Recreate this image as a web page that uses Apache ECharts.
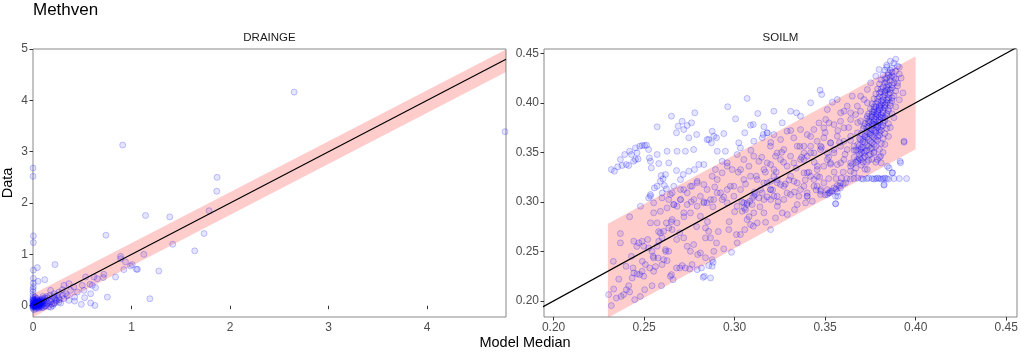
<!DOCTYPE html>
<html>
<head>
<meta charset="utf-8">
<script src="https://cdn.jsdelivr.net/npm/echarts@6/dist/echarts.min.js"></script>
<style>
html,body{margin:0;padding:0;background:#fff;}
#chart{width:1021px;height:352px;}
</style>
</head>
<body>
<div id="chart"></div>
<script>
// ---------- DATA ----------
const chartTitle = "Methven";
const panelNames = ["DRAINGE", "SOILM"];
const xAxisName = "Model Median";
const yAxisName = "Data";

const drainXTicks = [0, 1, 2, 3, 4];
const drainYTicks = [0, 1, 2, 3, 4, 5];
const soilXTicks = [0.20, 0.25, 0.30, 0.35, 0.40, 0.45];
const soilYTicks = [0.20, 0.25, 0.30, 0.35, 0.40, 0.45];

// 1:1 reference lines
const drainLine = [[0, 0], [4.8, 4.8]];
const soilLine = [[0.18, 0.18], [0.47, 0.47]];

// uncertainty bands
const drainBandX = [0, 4.8];
const drainBandLo = [-0.22, 4.55];
const drainBandHi = [0.23, 4.99];
const soilBandX = [0.23, 0.40];
const soilBandLo = [0.183, 0.353];
const soilBandHi = [0.278, 0.447];

const drainPoints = [
  [0,0],[0.01,0.02],[0.02,-0.03],[0.03,0.05],[0.04,0.01],[0.05,-0.02],[0.06,0.04],[0.07,0.0],[0.08,0.06],[0.09,-0.04],
  [0.10,0.02],[0.11,0.08],[0.12,-0.01],[0.0,0.10],[0.0,0.15],[0.0,0.20],[0.01,0.12],[0.02,0.08],[0.03,-0.06],[0.04,0.14],
  [0.05,0.10],[0.06,-0.05],[0.0,-0.05],[0.01,-0.08],[0.02,0.17],[0.03,0.10],[0.0,0.05],[0.0,0.03],[0.0,-0.02],[0.01,0.0],
  [0.015,0.04],[0.025,0.01],[0.035,0.02],[0.045,0.06],[0.055,0.03],[0.065,0.09],[0.075,0.05],[0.085,0.12],[0.095,0.07],[0.105,-0.03],
  [0.02,0.0],[0.03,0.03],[0.04,-0.03],[0.05,0.05],[0.06,0.01],[0.07,0.08],[0.08,-0.02],[0.09,0.10],[0.0,0.01],[0.01,0.06],
  [0.005,0.01],[0.015,-0.01],[0.025,0.03],[0.035,-0.02],[0.045,0.02],[0.055,0.07],[0.065,-0.01],[0.075,0.03],[0.085,0.0],[0.095,0.04],
  [0.005,0.08],[0.015,0.11],[0.025,0.06],[0.035,0.13],[0.045,0.09],[0.055,-0.04],[0.065,0.05],[0.075,0.11],[0.085,0.08],[0.095,0.14],
  [0.0,0.12],[0.0,0.08],[0.0,0.0],[0.0,-0.03],[0.01,0.04],[0.02,0.02],[0.03,0.0],[0.04,0.04],[0.05,0.01],[0.06,0.02],
  [0.11,0.12],[0.12,0.05],[0.13,0.0],[0.14,0.18],[0.16,0.10],[0.19,0.03],[0.22,0.15],[0.25,0.20],[0.27,0.12],[0.10,0.18],
  [0.13,0.10],[0.14,0.03],[0.15,0.15],[0.16,-0.02],[0.17,0.20],[0.18,0.08],[0.19,0.12],[0.20,0.0],[0.21,0.18],[0.22,0.05],
  [0.24,0.10],[0.26,0.15],[0.28,0.05],[0.30,0.20],[0.12,0.15],[0.15,0.05],[0.18,-0.03],[0.23,0.12],
  [0.179,0.299],[0.213,0.234],[0.263,0.266],[0.298,0.312],[0.331,0.234],[0.382,0.299],[0.45,0.266],[0.517,0.299],
  [0.415,0.365],[0.365,0.43],[0.314,0.397],[0.365,0.104],[0.422,0.091],[0.314,0.136],[0.263,0.07],[0.213,0.039],
  [0.348,0.195],[0.602,0.397],[0.635,0.352],[0.578,0.417],[0.50,0.397],[0.585,0.234],[0.524,0.156],[0.422,0.168],
  [0.49,0.026],[0.585,0.052],[0.628,0.006],[0.534,0.56],[0.652,0.525],[0.618,0.56],[0.713,0.548],[0.719,0.611],
  [0.223,0.801],[0.044,0.742],[0.119,0.507],[0.051,0.475],[0.004,0.693],[0.004,0.53],[0.004,0.44],[0.004,0.37],
  [0.004,1.36],[0.004,1.23],[0.0,2.68],[0.0,2.52],[0.0,0.32],[0.0,0.27],
  [0.754,0.168],[1.186,0.136],[0.838,0.559],[1.277,0.676],[0.922,0.703],[1.05,0.709],[1.06,0.709],[0.99,0.774],
  [0.939,0.852],[0.889,0.961],[0.889,0.915],[1.007,0.80],[1.125,1.0],[1.641,1.068],[1.418,1.197],[0.74,1.373],
  [1.736,1.406],[1.787,1.85],[1.388,1.73],[1.142,1.757],[1.865,2.23],[1.868,2.50],[0.91,3.13],[2.65,4.16],[4.79,3.39]
];

const soilPoints = [
  // upper-left outliers
  [0.2319,0.3326],[0.2336,0.3310],[0.2354,0.3354],[0.2378,0.3367],[0.2402,0.3377],[0.2415,0.3367],[0.2369,0.3427],[0.2393,0.3478],
  [0.2420,0.3511],[0.2430,0.3478],[0.2452,0.3545],[0.2461,0.3494],[0.2476,0.3562],[0.2489,0.3569],[0.2502,0.3569],[0.2513,0.3572],
  [0.2452,0.3427],[0.2442,0.3410],[0.2467,0.3432],[0.2525,0.3528],[0.2529,0.3444],[0.2535,0.3410],[0.2540,0.3343],[0.2572,0.3478],
  [0.2581,0.3387],[0.2594,0.3266],[0.2618,0.3276],[0.2605,0.3232],[0.2590,0.3208],[0.2627,0.3511],[0.2651,0.3865],[0.2572,0.3757],
  [0.2679,0.3697],[0.2688,0.3764],[0.2710,0.3814],[0.2719,0.3730],[0.2738,0.3771],[0.2747,0.3647],[0.2762,0.3798],[0.2780,0.3899],
  [0.2790,0.3680],[0.2774,0.3528],[0.2728,0.3511],[0.2682,0.3511],[0.2636,0.3393],[0.2679,0.3316],[0.2701,0.3225],[0.2716,0.3276],
  [0.2747,0.3310],[0.2778,0.3326],[0.2802,0.3377],[0.2830,0.3377],[0.2848,0.3629],[0.2876,0.3713],[0.2885,0.3663],[0.2857,0.3629],
  [0.2872,0.3596],[0.2900,0.3647],[0.2904,0.3511],[0.2940,0.3689],[0.2949,0.3511],[0.2962,0.3960],[0.3005,0.3838],[0.3023,0.3596],
  [0.3032,0.3545],[0.3056,0.3697],[0.3069,0.4044],[0.3088,0.3774],[0.3103,0.3781],[0.3106,0.3612],[0.3128,0.3892],[0.3153,0.3647],
  [0.3158,0.3680],[0.3180,0.3697],[0.2535,0.3057],[0.2557,0.3141],[0.2572,0.3158],[0.2623,0.3131],[0.2612,0.3165],[0.2600,0.3091],
  // lower-left part of band
  [0.2304,0.2064],[0.2319,0.1953],[0.2332,0.2120],[0.2347,0.2029],[0.2373,0.2046],[0.2387,0.2064],[0.2402,0.2114],[0.2415,0.2154],
  [0.2420,0.2091],[0.2434,0.2232],[0.2443,0.2283],[0.2439,0.2333],[0.2461,0.2273],[0.2476,0.2266],[0.2489,0.2299],[0.2498,0.2249],
  [0.2479,0.2046],[0.2448,0.2013],[0.2503,0.2114],[0.2507,0.2367],[0.2531,0.2333],[0.2544,0.2154],[0.2553,0.2299],[0.2563,0.2347],
  [0.2577,0.2434],[0.2596,0.2154],[0.2599,0.2367],[0.2608,0.2417],[0.2627,0.2407],[0.2651,0.2266],[0.2660,0.2215],[0.2645,0.2249],
  [0.2679,0.2333],[0.2697,0.2333],[0.2710,0.2357],[0.2728,0.2333],[0.2752,0.2323],[0.2765,0.2367],[0.2793,0.2316],[0.2833,0.2249],
  [0.2867,0.2232],[0.2817,0.2333],[0.2857,0.2357],[0.2881,0.2390],[0.2876,0.2417],[0.2826,0.2238],[0.2839,0.2437],[0.2876,0.2350],
  [0.2369,0.2680],[0.2369,0.2586],[0.2420,0.2849],[0.2443,0.2603],[0.2470,0.2586],[0.2489,0.2603],[0.2498,0.2552],[0.2525,0.2535],
  [0.2544,0.2501],[0.2553,0.2434],[0.2572,0.2552],[0.2581,0.2603],[0.2599,0.2636],[0.2618,0.2518],[0.2636,0.2501],[0.2590,0.2687],
  [0.2608,0.2703],[0.2636,0.2737],[0.2655,0.2720],[0.2623,0.2788],[0.2655,0.2822],[0.2682,0.2788],[0.2697,0.2687],[0.2719,0.2636],
  [0.2738,0.2552],[0.2756,0.2501],[0.2774,0.2569],[0.2796,0.2468],[0.2811,0.2485],[0.2839,0.2636],[0.2839,0.2737],[0.2857,0.2703],
  [0.2867,0.2636],[0.2900,0.2586],[0.2885,0.2501],[0.2940,0.2525],[0.2983,0.2491],[0.3014,0.2586],[0.2968,0.2720],[0.3010,0.2670],
  [0.3032,0.2670],[0.3056,0.2720],[0.3088,0.2771],[0.3069,0.2822],[0.3103,0.2754],[0.3125,0.2788],[0.3171,0.2794],[0.3199,0.2720],
  [0.3226,0.2838],[0.3263,0.2889],[0.3291,0.2872],[0.3331,0.2922],[0.3346,0.2973],[0.3392,0.2990],[0.3429,0.3006],[0.3475,0.3074],
  [0.3526,0.3091],[0.3558,0.2982],[0.3567,0.3097],[0.3585,0.3141],[0.2756,0.2889],[0.2811,0.2855],[0.2719,0.2889],[0.2664,0.2973],
  [0.2701,0.3023],[0.2627,0.2939],[0.2590,0.2905],[0.2553,0.2889],[0.2572,0.2788],[0.2535,0.2788],[0.2535,0.3074],[0.2525,0.3040],
  [0.2553,0.2990],[0.2599,0.3040],[0.2645,0.3074],[0.2664,0.3158],[0.2719,0.3124],[0.2756,0.3158],[0.2793,0.3208],[0.2830,0.2990],
  [0.2867,0.3023],[0.2904,0.3091],[0.2931,0.3023],[0.2959,0.3124],[0.2996,0.3158],[0.3014,0.2956],[0.3050,0.2990],[0.3060,0.2922],
  [0.3097,0.2973],[0.3106,0.2889],[0.3134,0.3040],[0.3152,0.3091],[0.3162,0.2889],[0.3199,0.3023],[0.3236,0.2956],[0.3272,0.3023],
  [0.3309,0.3074],[0.3355,0.3057],[0.3401,0.3091],[0.3456,0.3158],[0.3493,0.3192],[0.3199,0.3208],[0.3254,0.3175],[0.3328,0.3208],
  [0.3042,0.2905],[0.3054,0.2939],[0.3069,0.2973],[0.3084,0.3006],[0.3099,0.3040],[0.3114,0.3074],
  [0.3512,0.3074],[0.3531,0.3108],[0.3549,0.3141],[0.3567,0.3165],[0.3585,0.3192],
  [0.285,0.280],[0.288,0.295],[0.291,0.270],[0.294,0.305],[0.297,0.280],[0.289,0.315],[0.283,0.300],[0.279,0.275],
  [0.276,0.300],[0.272,0.285],[0.268,0.262],[0.265,0.280],[0.262,0.250],[0.258,0.270],[0.255,0.245],[0.252,0.262],
  [0.249,0.240],[0.246,0.255],[0.243,0.245],[0.240,0.235],[0.236,0.222],[0.233,0.240],
  // middle of band
  [0.3014,0.3478],[0.3051,0.3427],[0.3079,0.3360],[0.3106,0.3461],[0.3134,0.3410],[0.3162,0.3326],[0.3199,0.3377],[0.3226,0.3461],
  [0.3217,0.3259],[0.3180,0.3192],[0.3143,0.3124],[0.3106,0.3057],[0.3070,0.2990],[0.3033,0.3124],[0.2996,0.3057],[0.2959,0.2990],
  [0.2922,0.3091],[0.2885,0.3023],[0.3051,0.3225],[0.3088,0.3259],[0.3125,0.3225],[0.3162,0.3023],[0.3199,0.3124],[0.3235,0.3057],
  [0.3235,0.3192],[0.2959,0.3360],[0.2931,0.3293],[0.2904,0.3225],[0.2977,0.3158],[0.2848,0.3124],[0.2811,0.3057],[0.2848,0.2990],
  [0.2775,0.3023],[0.2738,0.2973],[0.2701,0.3023],[0.2664,0.2973],[0.2931,0.3410],[0.2959,0.3394],[0.2987,0.3326],[0.2894,0.3326],
  [0.2876,0.3259],[0.3033,0.3326],[0.2480,0.2956],[0.2636,0.3023],[0.2655,0.3091],[0.2701,0.3124],[0.2738,0.3091],[0.2765,0.3158],
  [0.2793,0.3192],[0.2830,0.3175],[0.2682,0.2956],[0.2793,0.2956],
  [0.302,0.330],[0.306,0.318],[0.309,0.352],[0.312,0.326],[0.315,0.345],[0.318,0.305],[0.320,0.360],[0.323,0.330],
  [0.326,0.350],[0.328,0.318],[0.331,0.372],[0.334,0.334],[0.336,0.356],[0.339,0.322],[0.342,0.366],[0.344,0.340],
  [0.347,0.325],[0.350,0.370],[0.352,0.345],[0.355,0.330],[0.358,0.360],[0.361,0.348],[0.363,0.375],[0.366,0.352],[0.368,0.380],
  [0.300,0.290],[0.304,0.300],[0.308,0.285],[0.311,0.310],[0.314,0.295],[0.317,0.330],[0.321,0.312],[0.324,0.300],
  [0.327,0.340],[0.330,0.322],[0.333,0.310],[0.337,0.345],[0.341,0.330],[0.345,0.312],[0.348,0.355],[0.353,0.338],
  [0.357,0.372],[0.360,0.330],[0.364,0.362],[0.367,0.340],
  [0.3180,0.3696],[0.3217,0.3679],[0.3254,0.3629],[0.3290,0.3713],[0.3327,0.3646],[0.3364,0.3730],[0.3401,0.3679],[0.3438,0.3730],
  [0.3466,0.3797],[0.3493,0.3747],[0.3521,0.3797],[0.3549,0.3780],[0.3585,0.3814],[0.3604,0.3747],[0.3641,0.3831],[0.3668,0.3881],
  [0.3696,0.3814],[0.3715,0.3764],[0.3733,0.3865],
  [0.3198,0.3562],[0.3235,0.3494],[0.3272,0.3528],[0.3309,0.3461],[0.3346,0.3562],[0.3383,0.3494],[0.3420,0.3562],[0.3456,0.3612],
  [0.3493,0.3646],[0.3530,0.3595],[0.3567,0.3663],[0.3604,0.3612],[0.3641,0.3663],[0.3678,0.3696],[0.3696,0.3629],
  [0.3180,0.3393],[0.3217,0.3326],[0.3254,0.3427],[0.3290,0.3360],[0.3327,0.3393],[0.3364,0.3427],[0.3401,0.3461],[0.3438,0.3494],
  [0.3475,0.3528],[0.3512,0.3494],[0.3549,0.3528],[0.3585,0.3562],[0.3622,0.3528],[0.3659,0.3562],[0.3696,0.3528],
  [0.3161,0.3191],[0.3198,0.3124],[0.3235,0.3225],[0.3272,0.3158],[0.3309,0.3259],[0.3346,0.3191],[0.3383,0.3292],[0.3420,0.3259],
  [0.3456,0.3326],[0.3493,0.3360],[0.3530,0.3393],[0.3567,0.3376],[0.3604,0.3427],[0.3641,0.3393],[0.3678,0.3427],[0.3715,0.3494],
  [0.3217,0.3057],[0.3290,0.3090],[0.3364,0.3124],[0.3438,0.3158],[0.3401,0.3057],[0.3475,0.3107],[0.3512,0.3124],
  [0.3383,0.3427],[0.3420,0.3495],[0.3457,0.3360],[0.3401,0.3293],[0.3438,0.3225],[0.3383,0.3158],[0.3401,0.3057],[0.3476,0.3124],
  [0.3457,0.3259],[0.3512,0.3427],[0.3549,0.3495],[0.3586,0.3394],[0.3641,0.3360],[0.3696,0.3427],[0.3733,0.3326],[0.3789,0.3427],
  [0.3770,0.3495],[0.3660,0.3293],[0.3613,0.3192],[0.3383,0.3562],[0.3475,0.3562],[0.3530,0.3596],
  [0.3217,0.3915],[0.3364,0.3865],[0.3420,0.4000],[0.3567,0.4033],[0.3622,0.3966],[0.3696,0.4067],[0.3733,0.4134],[0.3752,0.4202],
  [0.3780,0.4269],[0.3798,0.4336],[0.3678,0.3966],[0.3715,0.4033],[0.3650,0.4067],[0.3604,0.3915],[0.3733,0.4000],
  [0.3472,0.4127],[0.3481,0.4084],[0.3540,0.4006],[0.3309,0.3915],[0.3342,0.3899],[0.3263,0.3798],[0.3162,0.3758],[0.3512,0.3932],
  [0.3503,0.3831],[0.3586,0.3899],[0.3641,0.3899],[0.3696,0.3915],[0.3936,0.3612],[0.3917,0.3394],[0.3826,0.3175],[0.3570,0.3057],
  [0.3844,0.3360],[0.3807,0.3461],[0.3871,0.3293],[0.4000,0.4550],
  // streak and plateau near 0.3235
  [0.3500,0.3070],[0.3520,0.3090],[0.3540,0.3110],[0.3560,0.3130],[0.3580,0.3160],[0.3600,0.3180],[0.3558,0.2980],[0.3558,0.3057],
  [0.3520,0.3235],[0.3560,0.3235],[0.3590,0.3240],[0.3620,0.3235],[0.3640,0.3230],[0.3660,0.3235],[0.3680,0.3240],[0.3700,0.3235],
  [0.3710,0.3230],[0.3730,0.3235],[0.3740,0.3240],[0.3760,0.3235],[0.3770,0.3230],[0.3780,0.3235],[0.3790,0.3240],[0.3800,0.3235],
  [0.3810,0.3230],[0.3820,0.3235],[0.3830,0.3240],[0.3840,0.3235],[0.3850,0.3230],[0.3880,0.3235],[0.3910,0.3235],[0.3950,0.3235],
  [0.3825,0.3168],[0.3914,0.3410],[0.3936,0.3603],[0.3853,0.3343],[0.3872,0.3293],[0.3810,0.3393],
  // dense cluster
  [0.386,0.442],[0.388,0.440],[0.384,0.438],[0.390,0.437],[0.387,0.435],[0.383,0.433],[0.389,0.432],[0.385,0.430],
  [0.391,0.429],[0.382,0.428],[0.387,0.427],[0.384,0.425],[0.389,0.424],[0.381,0.423],[0.386,0.422],[0.383,0.420],
  [0.388,0.420],[0.380,0.419],[0.385,0.418],[0.390,0.417],[0.382,0.416],[0.387,0.415],[0.379,0.414],[0.384,0.413],
  [0.389,0.412],[0.381,0.411],[0.386,0.410],[0.378,0.409],[0.383,0.408],[0.388,0.407],
  [0.380,0.406],[0.385,0.405],[0.377,0.404],[0.382,0.403],[0.387,0.402],[0.379,0.401],[0.384,0.400],[0.376,0.399],
  [0.381,0.398],[0.386,0.397],[0.378,0.396],[0.383,0.395],[0.375,0.394],[0.380,0.393],[0.385,0.392],[0.377,0.391],
  [0.382,0.390],[0.387,0.389],[0.374,0.389],[0.379,0.388],[0.384,0.387],[0.376,0.386],[0.381,0.385],[0.373,0.384],
  [0.378,0.383],[0.383,0.382],[0.375,0.381],[0.380,0.380],[0.385,0.379],[0.372,0.379],[0.377,0.378],[0.382,0.377],
  [0.374,0.376],[0.379,0.375],[0.384,0.374],[0.371,0.374],[0.376,0.373],[0.381,0.372],[0.373,0.371],[0.378,0.370],
  [0.383,0.369],[0.370,0.369],[0.375,0.368],[0.380,0.367],[0.372,0.366],[0.377,0.365],[0.382,0.364],[0.369,0.364],
  [0.374,0.363],[0.379,0.362],[0.371,0.361],[0.376,0.360],[0.381,0.359],[0.368,0.358],[0.373,0.357],[0.378,0.356],
  [0.370,0.355],[0.375,0.354],[0.380,0.353],[0.367,0.352],[0.372,0.351],[0.377,0.350],[0.369,0.348],[0.374,0.347],
  [0.366,0.345],[0.371,0.344],[0.376,0.343],[0.368,0.341],[0.373,0.340],[0.365,0.338],[0.370,0.337],[0.367,0.334],
  [0.372,0.333],[0.364,0.331],
  [0.381,0.395],[0.379,0.392],[0.383,0.398],[0.378,0.386],[0.380,0.383],[0.377,0.381],[0.382,0.385],[0.376,0.379],
  [0.379,0.377],[0.378,0.372],[0.375,0.370],[0.380,0.373],[0.383,0.410],[0.385,0.414],[0.384,0.421],[0.386,0.426],
  [0.387,0.431],[0.385,0.403],[0.382,0.400],[0.380,0.397],[0.377,0.393],[0.376,0.388],[0.374,0.382],[0.373,0.375],
  [0.372,0.368],[0.371,0.363],[0.369,0.357],[0.368,0.351],
  [0.390,0.420],[0.392,0.425],[0.391,0.436],[0.389,0.444],[0.393,0.410],[0.391,0.403],[0.389,0.396],[0.388,0.385],
  [0.386,0.375],[0.385,0.366],[0.383,0.358],[0.382,0.350],[0.380,0.345],[0.378,0.340],
  [0.384,0.436],[0.386,0.433],[0.385,0.428],[0.388,0.426],[0.383,0.424],[0.387,0.418],[0.384,0.416],[0.381,0.414],
  [0.386,0.413],[0.383,0.412],[0.380,0.410],[0.385,0.409],[0.382,0.406],[0.387,0.405],[0.379,0.404],[0.384,0.403],
  [0.381,0.402],[0.386,0.400],[0.378,0.399],[0.383,0.397],[0.380,0.395],[0.385,0.394],[0.377,0.396],[0.382,0.392],
  [0.379,0.390],[0.384,0.389],[0.376,0.391],[0.381,0.388],[0.378,0.389],[0.383,0.385],[0.375,0.386],[0.380,0.386],
  [0.377,0.384],[0.382,0.380],[0.374,0.380],[0.379,0.381],[0.376,0.377],[0.381,0.376],[0.378,0.378],[0.375,0.374],
  [0.380,0.370],[0.377,0.372],[0.374,0.369],[0.379,0.366],[0.376,0.367],[0.373,0.365],[0.378,0.363],[0.375,0.361],
  [0.372,0.360],[0.377,0.358],[0.374,0.356],[0.371,0.355],[0.376,0.354],[0.373,0.352],[0.370,0.350],[0.375,0.348],
  [0.372,0.346],[0.369,0.344],[0.374,0.342],[0.371,0.340]
];

// ---------- CHART ----------
const chart = echarts.init(document.getElementById('chart'), null, {renderer: 'canvas'});

const FONT = '"Liberation Sans", Arial, Helvetica, sans-serif';
const grids = [
  {left: 33, top: 49, width: 473, height: 268},
  {left: 544, top: 49, width: 473, height: 268}
];

function bandRender(xs, lo, hi) {
  return function (params, api) {
    if (params.dataIndex !== 0) return null;
    const pts = [];
    for (let i = 0; i < xs.length; i++) pts.push(api.coord([xs[i], lo[i]]));
    for (let i = xs.length - 1; i >= 0; i--) pts.push(api.coord([xs[i], hi[i]]));
    const cs = params.coordSys;
    return {
      type: 'polygon',
      shape: {points: pts},
      style: {fill: 'rgba(255,0,0,0.2)'},
      clipPath: {type: 'rect', shape: {x: cs.x, y: cs.y, width: cs.width, height: cs.height}}
    };
  };
}

function axisCommon(ticks, fmt) {
  return {
    type: 'value',
    splitLine: {show: false},
    axisLine: {show: false},
    axisTick: {show: true, inside: false, length: 3.5, customValues: ticks, lineStyle: {color: '#333', width: 1}},
    axisLabel: {customValues: ticks, formatter: fmt, color: '#4d4d4d', fontSize: 12, fontFamily: FONT, margin: 5, hideOverlap: false}
  };
}
const fmtInt = v => String(Math.round(v));
const fmt2 = v => v.toFixed(2);

const pointStyle = {color: 'rgba(0,0,255,0.13)', borderColor: 'rgba(0,0,255,0.28)', borderWidth: 1};

const option = {
  animation: false,
  backgroundColor: '#fff',
  grid: grids.map(g => Object.assign({show: true, borderColor: '#888', borderWidth: 1, backgroundColor: '#fff', containLabel: false, outerBoundsMode: 'none'}, g)),
  xAxis: [
    Object.assign(axisCommon(drainXTicks, fmtInt), {gridIndex: 0, min: 0, max: 4.8}),
    Object.assign(axisCommon(soilXTicks, fmt2), {gridIndex: 1, min: 0.1947, max: 0.456})
  ],
  yAxis: [
    Object.assign(axisCommon(drainYTicks, fmtInt), {gridIndex: 0, min: -0.22, max: 5}),
    Object.assign(axisCommon(soilYTicks, fmt2), {gridIndex: 1, min: 0.1838, max: 0.4543})
  ],
  series: [
    {
      type: 'custom', xAxisIndex: 0, yAxisIndex: 0, z: 1,
      data: drainBandX.map((x, i) => [x, drainBandLo[i], drainBandHi[i]]),
      encode: {x: 0, y: [1, 2]},
      renderItem: bandRender(drainBandX, drainBandLo, drainBandHi),
      silent: true
    },
    {
      type: 'custom', xAxisIndex: 1, yAxisIndex: 1, z: 1,
      data: soilBandX.map((x, i) => [x, soilBandLo[i], soilBandHi[i]]),
      encode: {x: 0, y: [1, 2]},
      renderItem: bandRender(soilBandX, soilBandLo, soilBandHi),
      silent: true
    },
    {
      type: 'scatter', xAxisIndex: 0, yAxisIndex: 0, z: 2, clip: true,
      data: drainPoints, symbol: 'circle', symbolSize: 6,
      itemStyle: pointStyle, silent: true
    },
    {
      type: 'scatter', xAxisIndex: 1, yAxisIndex: 1, z: 2, clip: true,
      data: soilPoints, symbol: 'circle', symbolSize: 6,
      itemStyle: pointStyle, silent: true
    },
    {
      type: 'line', xAxisIndex: 0, yAxisIndex: 0, z: 3, clip: true,
      data: drainLine, showSymbol: false, symbol: 'none',
      lineStyle: {color: '#000', width: 1.2}, silent: true
    },
    {
      type: 'line', xAxisIndex: 1, yAxisIndex: 1, z: 3, clip: true,
      data: soilLine, showSymbol: false, symbol: 'none',
      lineStyle: {color: '#000', width: 1.2}, silent: true
    }
  ],
  graphic: [
    {type: 'text', x: 33, y: 10, style: {text: chartTitle, font: '17px ' + FONT, fill: '#000', textAlign: 'left', textVerticalAlign: 'middle'}},
    {type: 'text', x: 269.5, y: 38, style: {text: panelNames[0], font: '11.5px ' + FONT, fill: '#1a1a1a', textAlign: 'center', textVerticalAlign: 'middle'}},
    {type: 'text', x: 780.5, y: 38, style: {text: panelNames[1], font: '11.5px ' + FONT, fill: '#1a1a1a', textAlign: 'center', textVerticalAlign: 'middle'}},
    {type: 'text', x: 525, y: 343, style: {text: xAxisName, font: '14.5px ' + FONT, fill: '#000', textAlign: 'center', textVerticalAlign: 'middle'}},
    {type: 'text', x: 8, y: 183, rotation: Math.PI / 2, style: {text: yAxisName, font: '14.5px ' + FONT, fill: '#000', textAlign: 'center', textVerticalAlign: 'middle'}}
  ]
};
chart.setOption(option);
</script>
</body>
</html>
